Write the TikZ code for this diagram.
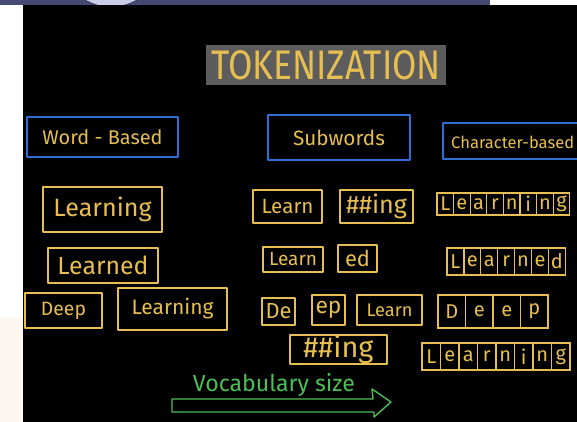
\documentclass[tikz,border=0pt]{standalone}
\usepackage{fontspec}
\setmainfont{Fira Sans}
\usepackage{graphicx}
\definecolor{yel}{HTML}{E6BE52}
\definecolor{blu}{HTML}{2F6FD3}
\definecolor{grn}{HTML}{4DBE55}
\definecolor{titlegray}{HTML}{5C5C5C}
\definecolor{navybar}{HTML}{454A74}
\definecolor{circfill}{HTML}{C9CEE6}
\definecolor{pinkbg}{HTML}{FDF5F0}
\newcommand{\hw}[2]{\resizebox{#1pt}{!}{#2}}
\begin{document}
\begin{tikzpicture}[x=1pt,y=-1pt,
  ybox/.style={draw=yel, line width=1.4pt, text=yel, inner sep=0pt, line join=round},
  bbox/.style={draw=blu, line width=1.6pt, text=yel, inner sep=0pt, line join=round},
  ycell/.style={draw=yel, line width=1.2pt, text=yel, inner sep=0pt, font=\fontsize{20}{20}\selectfont},
]
\useasboundingbox (0,0) rectangle (577,422);
\clip (0,0) rectangle (577,422);
% background
\fill[white] (0,0) rectangle (577,422);
\fill[pinkbg] (0,318) rectangle (23,422);
\fill[black] (23,5) rectangle (577,422);
\begin{scope}
  \clip (0,0) rectangle (490,5);
  \fill[navybar] (0,0) rectangle (490,5);
  \filldraw[fill=circfill, draw=navybar!70!black, line width=0.8pt] (111,-45) circle (52);
\end{scope}

% title
\node[fill=titlegray, minimum width=240pt, minimum height=40pt, inner sep=0pt] (title) at (326,65)
  {\resizebox{230pt}{29pt}{\color{yel}TOKENIZATION}};

% headers
\node[bbox, minimum width=151pt, minimum height=40pt] (wb) at (102.5,137) {\hw{120}{Word - Based}};
\node[bbox, minimum width=142pt, minimum height=45pt] (sw) at (339,137.5) {\hw{92}{Subwords}};
\node[bbox, minimum width=140pt, minimum height=36pt, anchor=west] (cb) at (442,141) {};
\node[text=yel, anchor=west, inner sep=0pt] (cbt) at (451,142) {\hw{123}{Character-based}};

% word-based column
\node[ybox, minimum width=119pt, minimum height=45pt] (w1) at (102.5,209.5) {\hw{98}{Learning}};
\node[ybox, minimum width=110pt, minimum height=35pt] (w2) at (103,265.5) {\hw{91}{Learned}};
\node[ybox, minimum width=77pt, minimum height=35pt] (w3a) at (63.5,310.5) {\hw{45}{Deep}};
\node[ybox, minimum width=109pt, minimum height=42pt] (w3b) at (172.5,309) {\hw{82}{Learning}};

% subwords column
\node[ybox, minimum width=69pt, minimum height=33pt] (s1a) at (287.5,206.5) {\hw{52}{Learn}};
\node[ybox, minimum width=73pt, minimum height=33pt] (s1b) at (376.5,206.5) {\hw{61}{\#\#ing}};
\node[ybox, minimum width=60pt, minimum height=25pt] (s2a) at (293,259.5) {\hw{48}{Learn}};
\node[ybox, minimum width=39pt, minimum height=27pt] (s2b) at (357.5,258.5) {\hw{25}{ed}};
\node[ybox, minimum width=33pt, minimum height=27pt] (s3a) at (278.5,311.5) {\hw{26}{De}};
\node[ybox, minimum width=33pt, minimum height=30pt] (s3b) at (328.5,310) {\hw{26}{ep}};
\node[ybox, minimum width=65pt, minimum height=30pt] (s3c) at (389.5,310) {\hw{46}{Learn}};
\node[ybox, minimum width=97pt, minimum height=25pt] (s4) at (338.5,349.5) {\hw{70}{\#\#ing}};

% character-based column
\foreach \l [count=\i] in {L,e,a,r,n,i,n,g}
  \node[ycell, minimum width=16.6pt, minimum height=22pt] (c1-\i) at ({437+16.6*(\i-0.5)},204) {\l};
\foreach \l [count=\i] in {L,e,a,r,n,e,d}
  \node[ycell, minimum width=16.9pt, minimum height=27pt] (c2-\i) at ({447+16.9*(\i-0.5)},261.5) {\l};
\foreach \l [count=\i] in {D,e,e,p}
  \node[ycell, minimum width=27.5pt, minimum height=33pt] (c3-\i) at ({438+27.5*(\i-0.5)},311.5) {\l};
\foreach \l [count=\i] in {L,e,a,r,n,i,n,g}
  \node[ycell, minimum width=18.5pt, minimum height=27pt] (c4-\i) at ({422+18.5*(\i-0.5)},356.5) {\l};

% vocabulary size arrow
\node[text=grn, inner sep=0pt] (vocab) at (274,385) {\hw{162}{Vocabulary size}};
\draw[grn, line width=1.4pt, line join=round]
  (172,399) -- (373,399) -- (372,389) -- (391,402) -- (374,417) -- (374,412) -- (172,412) -- cycle;
\end{tikzpicture}
\end{document}
